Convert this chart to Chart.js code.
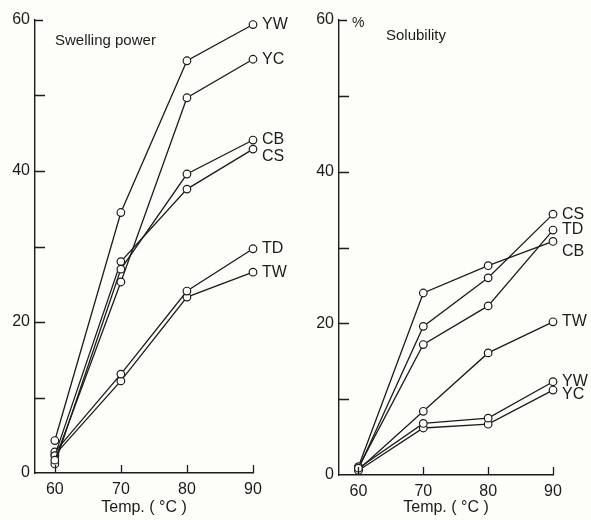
<!DOCTYPE html>
<html>
<head>
<meta charset="utf-8">
<script src="https://cdn.jsdelivr.net/npm/chart.js@4.4.0/dist/chart.umd.min.js"></script>
<style>
  html, body { margin: 0; padding: 0; background: #fdfdfa; }
  #wrap { position: relative; width: 591px; height: 520px; overflow: hidden; }
  #swell { position: absolute; left: 0; top: 0; }
  #solub { position: absolute; left: 295px; top: 0; }
</style>
</head>
<body>
<div id="wrap">
  <canvas id="swell" width="295" height="520"></canvas>
  <canvas id="solub" width="296" height="520"></canvas>
</div>
<script>
// Temperatures (x) and tick values
const temps = [60, 70, 80, 90];
const yTickValues = [0, 10, 20, 30, 40, 50, 60];
const seriesNames = ['YW', 'YC', 'CB', 'CS', 'TD', 'TW'];

// Swelling power (left panel)
const swellYW = [4.3, 34.5, 54.6, 59.4];
const swellYC = [1.7, 25.3, 49.7, 54.8];
const swellCB = [1.2, 27.0, 39.6, 44.1];
const swellCS = [2.3, 28.0, 37.6, 42.9];
const swellTD = [2.8, 13.1, 24.1, 29.7];
const swellTW = [2.4, 12.2, 23.3, 26.6];

// Solubility, % (right panel)
const solYW = [0.9, 6.8, 7.5, 12.3];
const solYC = [0.6, 6.2, 6.7, 11.2];
const solCB = [1.1, 24.0, 27.6, 30.8];
const solCS = [0.8, 19.6, 26.0, 34.4];
const solTD = [1.0, 17.2, 22.3, 32.3];
const solTW = [0.7, 8.4, 16.1, 20.2];

const ink = '#1c1c1c';
const fontFamily = '"Liberation Sans", "DejaVu Sans", sans-serif';

function toDatasets(names, arrays) {
    return names.map((name, i) => ({
        label: name,
        data: temps.map((t, j) => ({ x: t, y: arrays[i][j] })),
        borderColor: ink,
        borderWidth: 1.3,
        backgroundColor: '#fdfdfa',
        pointRadius: 3.8,
        pointBorderWidth: 1.2,
        pointBackgroundColor: '#fdfdfa',
        pointBorderColor: ink,
        tension: 0,
        clip: false
    }));
}

// Inside ticks, end labels, panel title
const decorPlugin = {
    id: 'decor',
    afterDatasetsDraw(chart, args, opts) {
        const ctx = chart.ctx;
        const xs = chart.scales.x;
        const ys = chart.scales.y;
        const left = chart.chartArea.left;
        const bottom = chart.chartArea.bottom;
        ctx.save();
        ctx.strokeStyle = ink;
        ctx.lineWidth = 1.3;
        ctx.beginPath();
        yTickValues.forEach(v => {
            if (v === 0) return;
            const py = Math.round(ys.getPixelForValue(v)) + 0.5;
            ctx.moveTo(left, py);
            ctx.lineTo(left + (v === 60 ? 8 : 10), py);
        });
        temps.forEach(t => {
            const px = Math.round(xs.getPixelForValue(t)) + 0.5;
            ctx.moveTo(px, bottom);
            ctx.lineTo(px, bottom - 8);
        });
        ctx.stroke();

        ctx.fillStyle = ink;
        ctx.textBaseline = 'middle';
        ctx.font = '16px ' + fontFamily;
        chart.data.datasets.forEach((ds, i) => {
            const last = ds.data[ds.data.length - 1];
            const px = xs.getPixelForValue(last.x);
            const py = ys.getPixelForValue(last.y) + (opts.labelShift[ds.label] || 0);
            ctx.fillText(ds.label, px + 9, py);
        });

        ctx.font = '15px ' + fontFamily;
        ctx.fillText(opts.title, left + opts.titleDx, ys.getPixelForValue(60) + opts.titleDy);
        if (opts.unit) {
            ctx.font = '14px ' + fontFamily;
            ctx.fillText(opts.unit, left + 13, ys.getPixelForValue(60) + 3);
        }
        ctx.restore();
    }
};

function makeChart(id, arrays, cfg) {
    return new Chart(document.getElementById(id), {
        type: 'line',
        data: { datasets: toDatasets(seriesNames, arrays) },
        options: {
            responsive: false,
            animation: false,
            layout: { padding: { top: cfg.top, right: cfg.right, left: 0, bottom: 0 } },
            plugins: {
                legend: { display: false },
                tooltip: { enabled: false },
                decor: cfg.decor
            },
            scales: {
                x: {
                    type: 'linear',
                    min: 57,
                    max: 90,
                    afterBuildTicks: s => { s.ticks = temps.map(v => ({ value: v })); },
                    afterFit: s => { s.height = cfg.xHeight; },
                    grid: { display: false, drawTicks: false },
                    border: { display: true, color: ink, width: 1.4 },
                    ticks: { color: ink, padding: 7, font: { family: fontFamily, size: 16 } },
                    title: {
                        display: true,
                        text: 'Temp. ( °C )',
                        color: ink,
                        padding: { top: 0, bottom: 3 },
                        font: { family: fontFamily, size: 16 }
                    }
                },
                y: {
                    min: 0,
                    max: 60,
                    afterBuildTicks: s => { s.ticks = [0, 20, 40, 60].map(v => ({ value: v })); },
                    afterFit: s => { s.width = cfg.yWidth; },
                    grid: { display: false, drawTicks: false },
                    border: { display: true, color: ink, width: 1.4 },
                    ticks: { color: ink, padding: 5, font: { family: fontFamily, size: 16 } }
                }
            }
        },
        plugins: [decorPlugin]
    });
}

makeChart('swell', [swellYW, swellYC, swellCB, swellCS, swellTD, swellTW], {
    top: 20, right: 42, xHeight: 47, yWidth: 35,
    decor: { title: 'Swelling power', titleDx: 20, titleDy: 21, unit: null, labelShift: { CS: 7 } }
});

makeChart('solub', [solYW, solYC, solCB, solCS, solTD, solTW], {
    top: 20, right: 38, xHeight: 45, yWidth: 44,
    decor: { title: 'Solubility', titleDx: 47, titleDy: 16, unit: '%', labelShift: { CB: 10, YC: 5 } }
});
</script>
</body>
</html>
